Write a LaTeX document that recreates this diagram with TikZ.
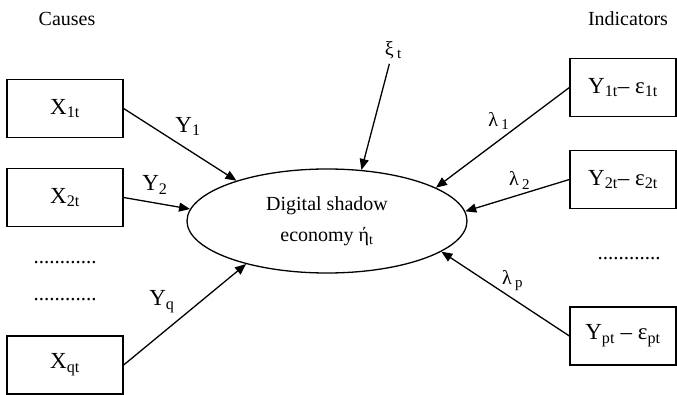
\documentclass[tikz,border=0pt]{standalone}
\usepackage{fontspec}
\setmainfont{Liberation Serif}
\usetikzlibrary{arrows.meta,shapes.geometric}

\newcommand{\gsub}[1]{\,\raisebox{-0.35ex}{\fontsize{15}{15}\selectfont #1}}

\begin{document}
\begin{tikzpicture}[x=1pt,y=-1pt,
    box/.style={draw,line width=1.3pt,minimum height=58pt,inner sep=0pt,font=\fontsize{23}{27}\selectfont},
    lbl/.style={font=\fontsize{20}{24}\selectfont},
    coef/.style={font=\fontsize{23}{27}\selectfont,inner sep=0pt},
    greek/.style={font=\fontsize{20}{24}\selectfont,inner sep=0pt},
    dots/.style={font=\fontsize{21}{24}\selectfont},
    arr/.style={-{Triangle[length=11pt,width=9pt]},line width=1.3pt}]
    \useasboundingbox (0,0) rectangle (677,395);

    % headings
    \node[lbl] (causes) at (67,19) {Causes};
    \node[lbl] (indic) at (628,19) {Indicators};

    % causes
    \node[box,minimum width=116pt] (x1) at (65,108.5) {X\textsubscript{1t}};
    \node[box,minimum width=116pt] (x2) at (65,197.5) {X\textsubscript{2t}};
    \node[dots] (dotsa) at (65,263) {............};
    \node[dots] (dotsb) at (65,300) {............};
    \node[box,minimum width=116pt] (xq) at (65,365) {X\textsubscript{qt}};

    % latent variable
    \node[ellipse,draw,line width=1.3pt,minimum width=280pt,minimum height=104pt,inner sep=0pt,
          align=center,font=\fontsize{20}{31}\selectfont] (eta) at (327,221)
          {Digital shadow\\economy ή\textsubscript{t}};
    \node[greek] (xi) at (393,50) {ξ\gsub{t}};

    % indicators
    \node[box,minimum width=106pt] (y1) at (623,87.5) {Y\textsubscript{1t}– ε\textsubscript{1t}};
    \node[box,minimum width=106pt] (y2) at (623,179.5) {Y\textsubscript{2t}– ε\textsubscript{2t}};
    \node[dots] (dotsc) at (629,259) {............};
    \node[box,minimum width=106pt] (yp) at (623,336) {Y\textsubscript{pt} – ε\textsubscript{pt}};

    % paths
    \draw[arr] (x1.east) -- node[coef,pos=.5,xshift=8pt,yshift=18pt] {Y\textsubscript{1}} (eta.156.5);
    \draw[arr] (x2.east) -- node[coef,pos=.5,xshift=-2pt,yshift=18pt] {Y\textsubscript{2}} (eta.175.9);
    \draw[arr] (xq.east) -- node[coef,pos=.5,xshift=-23pt,yshift=13pt] {Y\textsubscript{q}} (eta.208);
    \draw[arr,shorten <=5pt] (xi) -- (eta.56.6);
    \draw[arr] (y1.west) -- node[greek,pos=.5,xshift=-4pt,yshift=17pt] {λ\gsub{1}} (eta.17.5);
    \draw[arr] (y2.west) -- node[greek,pos=.5,xshift=2pt,yshift=15pt] {λ\gsub{2}} (eta.4.1);
    \draw[arr] (yp.west) -- node[greek,pos=.5,xshift=7pt,yshift=13pt] {λ\gsub{p}} (eta.-15);
\end{tikzpicture}
\end{document}
